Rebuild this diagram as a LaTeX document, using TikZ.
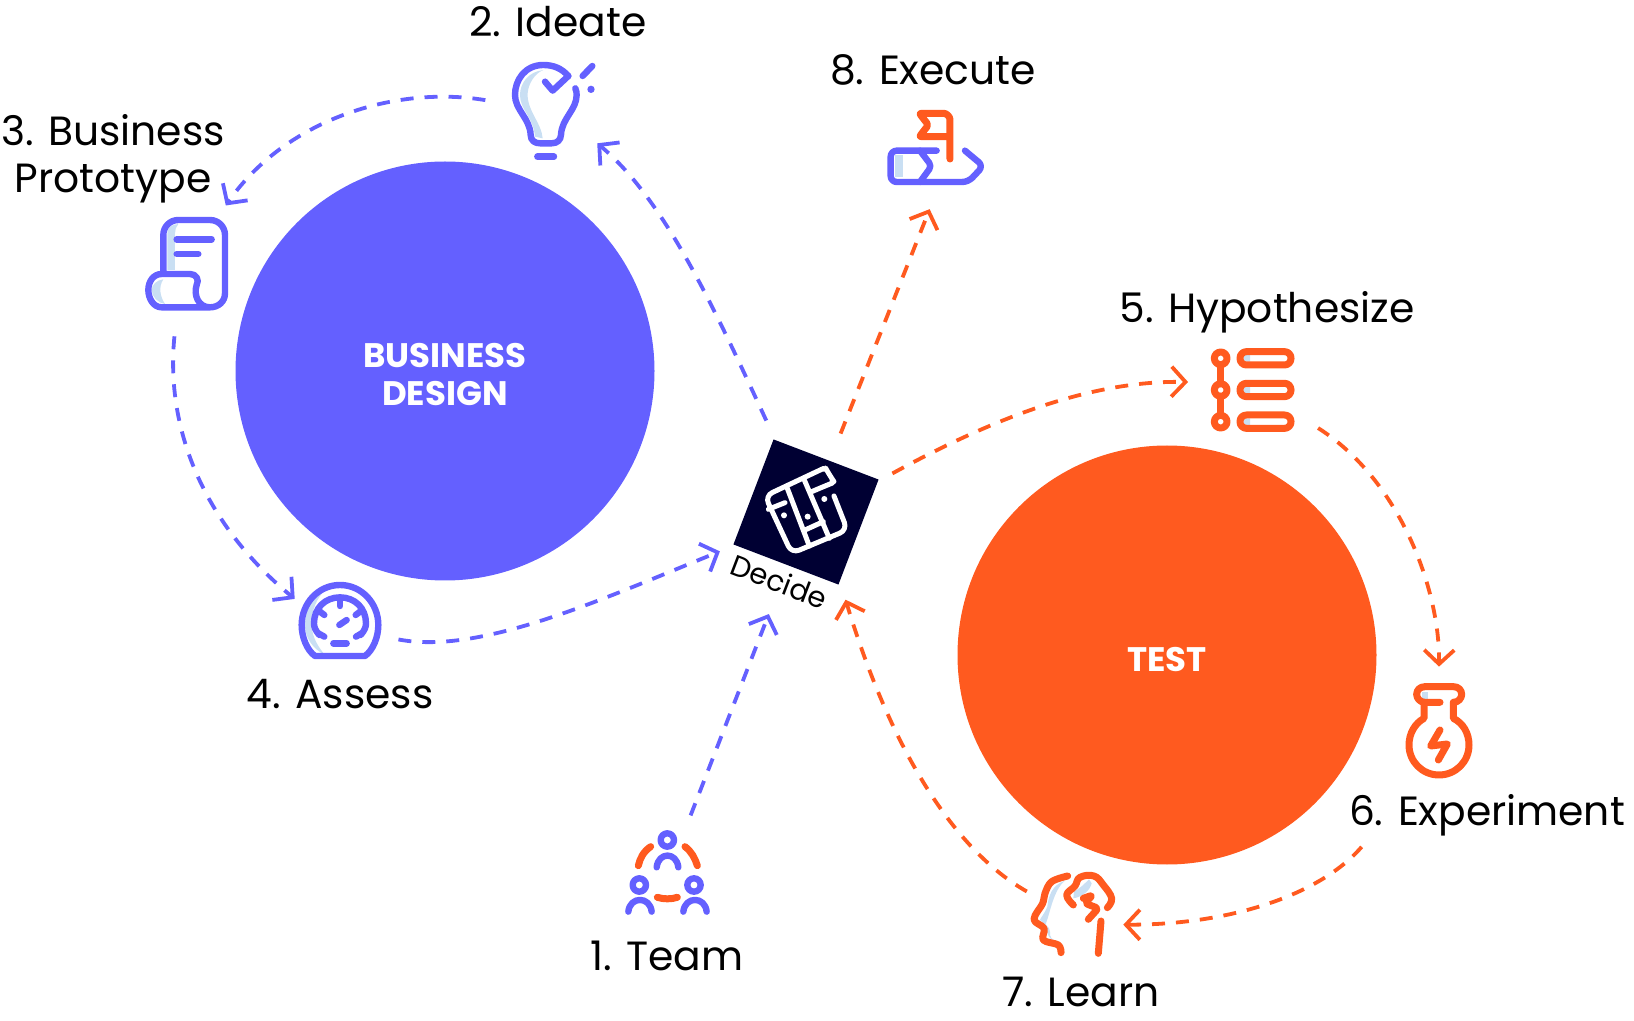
\documentclass[tikz,border=0pt]{standalone}
\usepackage{fontspec}
\setmainfont{Poppins}
\usetikzlibrary{arrows.meta, positioning}
\definecolor{cblue}{HTML}{6460FF}
\definecolor{corange}{HTML}{FF5A1F}
\definecolor{cpale}{HTML}{C9DFF3}
\definecolor{cdark}{HTML}{000033}
\begin{document}
\begin{tikzpicture}[
  x=0.5pt, y=-0.5pt,
  >={Straight Barb[length=7pt, width=15pt]},
  node distance=4pt and 4pt,
  blob/.style={circle, minimum size=209.5pt, inner sep=0pt},
  blobtext/.style={align=center, text=white, inner sep=0pt, font=\fontsize{17}{19}\selectfont\bfseries},
  spot/.style={circle, minimum size=#1, inner sep=0pt},
  lbl/.style={align=center, inner sep=0pt, font=\fontsize{20.4}{23.5}\selectfont},
  bluearr/.style={->, draw=cblue, line width=1.9pt, dash pattern=on 6.5pt off 5.5pt},
  orarr/.style={->, draw=corange, line width=1.9pt, dash pattern=on 6.5pt off 5.5pt},
  ico/.style={line cap=round, line join=round},
  blueico/.style={ico, line width=3.2pt, draw=cblue},
  orico/.style={ico, line width=3.5pt, draw=corange},
  whiteico/.style={ico, line width=2.5pt, draw=white},
  ]
\useasboundingbox (0,0) rectangle (1634,1021);

\node[blob, fill=cblue] (bizcircle) at (445,371) {};
\node[blob, fill=corange] (testcircle) at (1167,655) {};
\node[blobtext] (biztext) at ([yshift=-2pt]bizcircle.center) {BUSINESS\\DESIGN};
\node[blobtext] (testtext) at ([yshift=-2.5pt]testcircle.center) {TEST};

\node[minimum size=56.2pt, inner sep=0pt, fill=cdark, rotate=-20.9] (decide) at (806,512) {};
\node[rotate=-20.9, anchor=north, inner sep=3pt, font=\fontsize{14.5}{17}\selectfont] (decidelbl) at (decide.south) {Decide};

\node[spot=60pt] (team) at (667,871) {};
\node[spot=55pt] (bulb) at (553,110) {};
\node[spot=69pt] (scroll) at (187,263) {};
\node[spot=50pt] (gauge) at (340,621) {};
\node[spot=61pt] (flag) at (935,148) {};
\node[spot=65pt] (steps) at (1253,390) {};
\node[spot=64pt] (flask) at (1439,731) {};
\node[spot=51pt] (head) at (1073,914) {};

\node[lbl, below=4.5pt of team] (teamlbl) {1. Team};
\node[lbl, above=8.5pt of bulb, xshift=2.5pt] (bulblbl) {2. Ideate};
\node[lbl, above=-5pt of scroll, xshift=-37pt] (scrolllbl) {3. Business\\Prototype};
\node[lbl, below=3.5pt of gauge] (gaugelbl) {4. Assess};
\node[lbl, above=0.5pt of flag, xshift=-1pt] (flaglbl) {8. Execute};
\node[lbl, above=-4.3pt of steps, xshift=7pt] (stepslbl) {5. Hypothesize};
\node[lbl, below=-0.5pt of flask, xshift=24pt] (flasklbl) {6. Experiment};
\node[lbl, below=5.5pt of head, xshift=4pt] (headlbl) {7. Learn};

\draw[bluearr, shorten >=26pt] (team.67) -- (decide.272);
\draw[bluearr, shorten <=10.5pt] (decide.134) .. controls (715,310) and (665,200) .. (bulb.-37);
\draw[bluearr, shorten <=6.5pt] (bulb.172) .. controls (395,85) and (285,120) .. (scroll.56);
\draw[bluearr, shorten <=2.5pt] (scroll.-100) .. controls (165,430) and (205,525) .. (gauge.154);
\draw[bluearr, shorten <=5.5pt, shorten >=8pt] (gauge.-19) .. controls (480,655) and (600,600) .. (decide.226);
\draw[orarr, shorten <=14.5pt] (decide.86) -- (flag.-95);
\draw[orarr, shorten <=8pt] (decide.44) .. controls (990,420) and (1090,380) .. (steps.173);
\draw[orarr, shorten <=5pt] (steps.-30) .. controls (1400,480) and (1440,590) .. (flask.90);
\draw[orarr] ([xshift=6.5pt, yshift=-5pt]flasklbl.south west) .. controls (1320,895) and (1230,925) .. (head.-12);
\draw[orarr, shorten >=9.5pt] (head.154) .. controls (945,845) and (885,730) .. (decide.-43);

\begin{scope}[shift={(460,0)}, scale=0.3333]
\fill[cpale] (250,210) .. controls (205,215) and (180,250) .. (180,285) .. controls (180,330) and (220,350) .. (225,410) -- (248,415) .. controls (245,370) and (200,330) .. (203,280) .. controls (205,250) and (225,220) .. (250,210) -- cycle;
\draw[blueico] (325,228) .. controls (305,205) and (280,195) .. (250,195) .. controls (195,195) and (165,240) .. (165,285) .. controls (165,330) and (210,355) .. (212,405) .. controls (212,422) and (225,430) .. (240,430) -- (275,430) .. controls (292,430) and (302,420) .. (303,405) .. controls (305,355) and (350,330) .. (350,285) .. controls (350,278) and (349,272) .. (346,265);
\draw[blueico] (255,245) -- (278,272) -- (325,228);
\draw[blueico] (232,470) -- (282,470);
\draw[blueico] (368,228) -- (397,198);
\fill[cblue] (393,268) circle (11);
\end{scope}

\begin{scope}[shift={(130,200)}, scale=0.3333]
\fill[cpale] (112,210) -- (112,100) .. controls (112,85) and (125,72) .. (145,72) .. controls (138,80) and (135,90) .. (135,100) -- (135,210) -- cycle;
\fill[cpale] (100,238) .. controls (80,240) and (65,255) .. (65,270) .. controls (65,290) and (85,310) .. (105,312) .. controls (90,290) and (85,260) .. (100,238) -- cycle;
\draw[blueico] (100,220) -- (100,105) .. controls (100,80) and (120,60) .. (145,60) -- (240,60) .. controls (265,60) and (285,80) .. (285,105) -- (285,280) .. controls (285,305) and (265,322) .. (240,322) -- (95,322) .. controls (70,322) and (55,295) .. (55,270) .. controls (55,245) and (70,222) .. (95,222) -- (180,222) .. controls (200,222) and (208,240) .. (200,255) .. controls (190,285) and (205,322) .. (240,322);
\draw[blueico] (140,118) -- (245,118);
\draw[blueico] (140,162) -- (205,162);
\end{scope}

\begin{scope}[shift={(280,570)}, scale=0.3333]
\fill[cpale] (135,60) .. controls (95,80) and (75,120) .. (75,165) .. controls (75,200) and (95,235) .. (135,255) .. controls (105,220) and (95,190) .. (95,160) .. controls (95,120) and (110,85) .. (135,60) -- cycle;
\draw[blueico] (105,258) .. controls (80,240) and (65,200) .. (65,165) .. controls (65,100) and (115,45) .. (180,45) .. controls (245,45) and (295,100) .. (295,165) .. controls (295,200) and (280,240) .. (255,258) -- cycle;
\draw[blueico] (118,195) .. controls (105,180) and (102,170) .. (102,160) .. controls (102,115) and (135,82) .. (180,82) .. controls (225,82) and (258,115) .. (258,160) .. controls (258,170) and (255,180) .. (242,195);
\draw[blueico] (180,85) -- (180,108);
\draw[blueico] (120,125) -- (133,135);
\draw[blueico] (240,125) -- (227,135);
\draw[blueico] (115,190) -- (133,200);
\draw[blueico] (245,190) -- (228,200);
\draw[blueico] (178,165) -- (200,150);
\draw[blueico] (160,220) -- (200,220);
\end{scope}

\begin{scope}[shift={(820,90)}, scale=0.3333]
\fill[cpale] (225,195) rectangle (248,262);
\draw[orico, rounded corners=1pt] (390,207) -- (390,95) .. controls (390,80) and (380,70) .. (365,70) -- (298,70) -- (325,105) -- (298,140) -- (388,140);
\draw[blueico, rounded corners=3pt] (350,182) -- (212,182) -- (212,276) -- (445,276) -- (490,228) -- (435,182);
\draw[blueico, rounded corners=2pt] (300,182) -- (335,228) -- (300,276);
\end{scope}

\begin{scope}[shift={(710,420)}, scale=0.3333]
\draw[whiteico, rounded corners=4pt] (305,215) -- (345,198) .. controls (365,190) and (365,175) .. (358,165) .. controls (350,150) and (335,148) .. (320,155) -- (165,228) -- (245,400) -- (412,330) -- (372,228);
\draw[whiteico] (232,205) -- (298,378);
\draw[whiteico] (283,180) -- (358,355);
\draw[whiteico] (175,268) -- (225,248);
\draw[whiteico] (285,330) -- (340,305);
\fill[white] (222,286) circle (9) (293,290) circle (9) (343,237) circle (9);
\end{scope}

\begin{scope}[shift={(1190,330)}, scale=0.3333]
\fill[cpale] (160,75) rectangle (180,95) (160,170) rectangle (180,190) (160,265) rectangle (180,285);
\foreach \yy in {85,180,275} {
  \draw[orico] (92,\yy) circle (19);
  \draw[orico, rounded corners=3.2pt] (150,\yy-20) rectangle (303,\yy+20);
}
\draw[orico] (92,104) -- (92,161);
\draw[orico] (92,199) -- (92,256);
\end{scope}

\begin{scope}[shift={(1390,670)}, scale=0.3333]
\fill[cpale] (95,65) rectangle (115,87);
\draw[orico] (150,97) -- (105,97) .. controls (90,97) and (80,85) .. (80,73) .. controls (80,60) and (90,50) .. (105,50) -- (190,50) .. controls (205,50) and (215,60) .. (215,73) .. controls (215,85) and (205,97) .. (190,97) -- (190,145) .. controls (220,160) and (237,190) .. (237,225) .. controls (237,275) and (197,315) .. (147,315) .. controls (97,315) and (57,275) .. (57,225) .. controls (57,190) and (75,160) .. (102,145) -- (102,97);
\draw[orico] (150,180) -- (122,228) -- (172,222) -- (145,270);
\end{scope}

\begin{scope}[shift={(1020,860)}, scale=0.3333]
\fill[cpale] (135,62) .. controls (95,75) and (85,110) .. (82,140) .. controls (75,160) and (60,175) .. (60,180) .. controls (75,195) and (90,200) .. (90,215) .. controls (88,230) and (95,240) .. (110,243) .. controls (80,240) and (80,210) .. (78,190) .. controls (90,160) and (100,90) .. (135,62) -- cycle;
\fill[cpale] (207,58) .. controls (195,70) and (180,85) .. (162,95) -- (160,115) .. controls (190,110) and (210,90) .. (215,70) -- cycle;
\draw[orico] plot[smooth, tension=.6] coordinates {(143,48) (95,65) (75,100) (68,130) (42,178) (72,205) (70,240) (115,255) (123,278)};
\draw[orico] plot[smooth, tension=.7] coordinates {(160,135) (140,105) (165,78) (180,52) (222,48) (250,75) (275,115) (262,143)};
\draw[orico, rounded corners=1.5pt] (190,115) -- (218,105) -- (195,130) -- (235,145) -- (205,178);
\draw[orico] (243,183) -- (235,280);
\end{scope}

\begin{scope}[shift={(610,820)}, scale=0.3333]
\draw[blueico] (172,60) circle (20);
\draw[blueico] (88,195) circle (20);
\draw[blueico] (252,195) circle (20);
\draw[blueico] (140,142) .. controls (145,95) and (200,95) .. (205,142);
\draw[blueico] (55,275) .. controls (60,228) and (120,228) .. (125,275);
\draw[blueico] (220,275) .. controls (225,228) and (285,228) .. (290,275);
\draw[orico] (122,80) .. controls (100,95) and (90,115) .. (85,137);
\draw[orico] (225,80) .. controls (245,95) and (255,115) .. (262,137);
\draw[orico] (142,232) .. controls (160,238) and (185,238) .. (202,232);
\end{scope}
\end{tikzpicture}
\end{document}
